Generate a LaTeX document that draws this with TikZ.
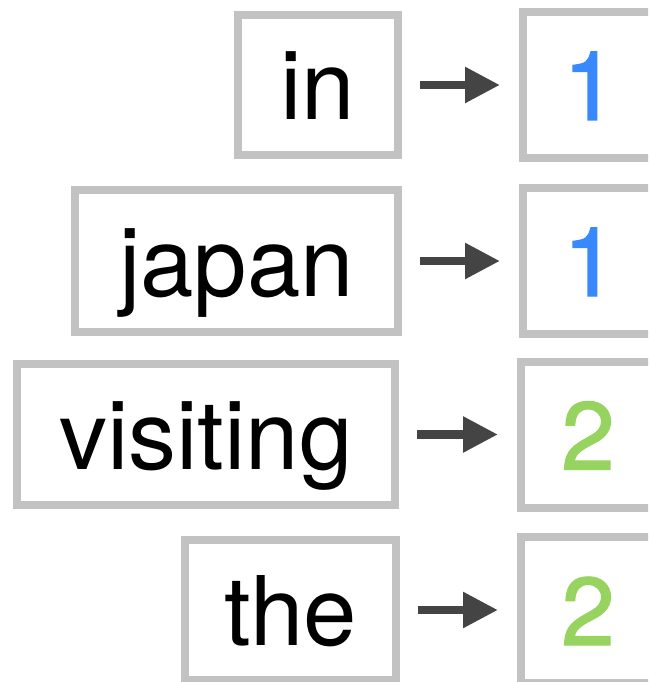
\documentclass[tikz,border=0pt]{standalone}
\usepackage{fontspec}
\setmainfont{TeX Gyre Heros}
\newfontfamily\numfont[FakeBold=1.5]{TeX Gyre Heros}
\usetikzlibrary{arrows.meta}
\definecolor{boxgray}{HTML}{C2C2C2}
\definecolor{arrowgray}{HTML}{444444}
\definecolor{numblue}{HTML}{3A88FE}
\definecolor{numgreen}{HTML}{96D35F}
\begin{document}
\begin{tikzpicture}[x=1pt,y=-1pt,
  wordbox/.style={draw=boxgray, fill=white, line width=8pt, inner sep=0pt,
    text height=70pt, text depth=0pt, font=\fontsize{96}{100}\selectfont,
    minimum height=140pt},
  numbox/.style={wordbox, minimum width=134pt, minimum height=146pt,
    font=\numfont\fontsize{96}{100}\selectfont},
  conn/.style={draw=arrowgray, line width=8.5pt,
    -{Triangle[length=35pt,width=34pt]}, shorten <=18pt, shorten >=19pt}]
\useasboundingbox (0,0) rectangle (648,682);
\clip (0,0) rectangle (648,682);
\node[wordbox, minimum width=160pt] (w1) at (318,85) {in};
\node[wordbox, minimum width=323pt, minimum height=142pt] (w2) at (236.5,261) {japan};
\node[wordbox, minimum width=378pt, minimum height=141pt] (w3) at (206,434.5) {visiting};
\node[wordbox, minimum width=211pt] (w4) at (290.5,610) {the};
\node[numbox, text=numblue] (n1) at (590,85) {1};
\node[numbox, text=numblue] (n2) at (590,261) {1};
\node[numbox, text=numgreen] (n3) at (588,434.5) {2};
\node[numbox, text=numgreen] (n4) at (588,610) {2};
\draw[conn] (w1) -- (n1);
\draw[conn] (w2) -- (n2);
\draw[conn] (w3) -- (n3);
\draw[conn] (w4) -- (n4);
\end{tikzpicture}
\end{document}
